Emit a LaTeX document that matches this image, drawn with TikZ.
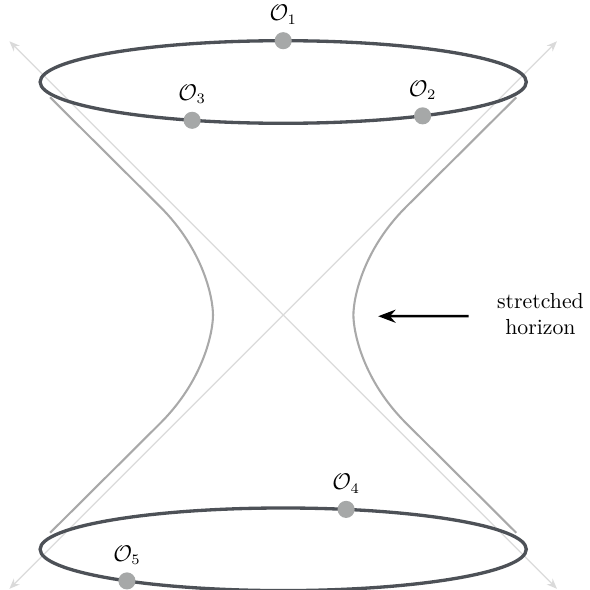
\documentclass[tikz,border=0pt]{standalone}
\usepackage{amsmath}
\usepackage{amssymb}
\usepackage{tikz}
\usepackage{xcolor}
\usetikzlibrary{arrows.meta, positioning, calc}
\definecolor{RimGray}{HTML}{4D5157}
\definecolor{DotGray}{HTML}{A6A8A8}
\definecolor{HorizonGray}{HTML}{A9A9A9}
\definecolor{ConeGray}{HTML}{DADADA}
\tikzset{
    % light diagonal lines of the cone
    cone line/.style={
        {Stealth[length=5pt,width=4pt]}-{Stealth[length=5pt,width=4pt]},
        ConeGray,
        line width=0.6pt
    },
    % the two round rims
    rim/.style={
        RimGray,
        line width=1.6pt
    },
    horizon line/.style={
        HorizonGray,
        line width=1pt
    },
    observer/.style={
        circle,
        fill=DotGray,
        inner sep=0pt,
        minimum size=0.29cm
    },
    arrow style/.style={
        ->,
        >=Stealth,
        line width=1.2pt,
        black
    },
    every node/.append style={
        font=\fontsize{10.5pt}{12.6pt}\selectfont
    }
}

\begin{document}
\begin{tikzpicture}
        \useasboundingbox (-4.80,-4.66) rectangle (5.20,5.34);

        % Light cone
        \coordinate (ul) at (-4.64, 4.64);
        \coordinate (ur) at (4.64, 4.64);
        \coordinate (ll) at (-4.64, -4.64);
        \coordinate (lr) at (4.64, -4.64);
        \draw[cone line] (ll) -- (ur);
        \draw[cone line] (lr) -- (ul);

        % Stretched horizon, both sides
        \foreach \side in {1,-1} {
            \draw[horizon line, xscale=\side] (-3.95,3.69) -- (-2.08,1.83)
                .. controls (-1.35,1.10) and (-1.19,0.29) .. (-1.19,0)
                .. controls (-1.19,-0.29) and (-1.35,-1.10) .. (-2.08,-1.83)
                -- (-3.95,-3.69);
        }

        % Rims
        \coordinate (topc) at (0, 3.95);
        \coordinate (botc) at (0, -3.97);
        \draw[rim] (topc) ellipse (4.12 and 0.7);
        \draw[rim] (botc) ellipse (4.12 and 0.7);

        % Observers
        \node[observer, label={above:$\mathcal{O}_1$}] (o1) at ($(topc)+(90:4.12 and 0.7)$) {};
        \node[observer, label={above:$\mathcal{O}_2$}] (o2) at ($(topc)+(-55:4.12 and 0.7)$) {};
        \node[observer, label={above:$\mathcal{O}_3$}] (o3) at ($(topc)+(248:4.12 and 0.7)$) {};
        \node[observer, label={above:$\mathcal{O}_4$}] (o4) at ($(botc)+(75:4.12 and 0.7)$) {};
        \node[observer, label={above:$\mathcal{O}_5$}] (o5) at ($(botc)+(230:4.12 and 0.7)$) {};

        % Label
        \node[align=center] (stretched) at (4.36, 0.02) {stretched\\horizon};
        \coordinate (horizontip) at (1.61, -0.02);
        \draw[arrow style] ([xshift=-0.36cm, yshift=-0.04cm]stretched.west) -- (horizontip);
    \end{tikzpicture}
\end{document}
